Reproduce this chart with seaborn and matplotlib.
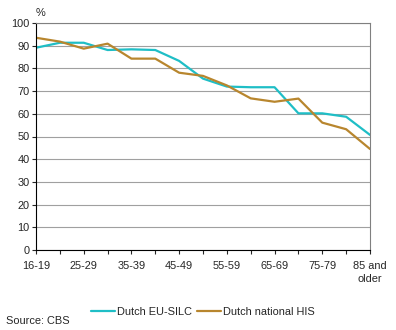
import matplotlib
matplotlib.use("Agg")
import matplotlib.pyplot as plt
import seaborn as sns
import pandas as pd

age_groups = ["16-19", "20-24", "25-29", "30-34", "35-39", "40-44", "45-49", "50-54",
              "55-59", "60-64", "65-69", "70-74", "75-79", "80-84", "85 and\nolder"]
eu_silc = [89.1, 91.3, 91.3, 88.1, 88.4, 88.1, 83.3, 75.5, 72.0, 71.7, 71.7, 60.2, 60.2, 58.7, 50.7]
his = [93.5, 91.8, 88.7, 90.9, 84.3, 84.3, 78.1, 76.7, 72.5, 66.8, 65.3, 66.7, 56.1, 53.2, 44.5]
series_names = ["Dutch EU-SILC", "Dutch national HIS"]
colors = ["#1FBEC6", "#B8862E"]

rows = []
for name, vals in zip(series_names, [eu_silc, his]):
    for i, v in enumerate(vals):
        rows.append({"pos": i, "value": v, "series": name})
df = pd.DataFrame(rows)

sns.set_style("white")
plt.rcParams['font.family'] = ['Liberation Sans', 'DejaVu Sans']
FS = 7.9

fig = plt.figure(figsize=(3.96, 3.30), dpi=100)
ax = fig.add_axes([36/396, 1 - 250/330, (370-36)/396, (250-23)/330])

sns.lineplot(data=df, x="pos", y="value", hue="series", palette=colors,
             linewidth=1.6, ax=ax, legend=False)

ax.set_xlim(0, len(age_groups) - 1)
ax.set_ylim(0, 100)
ax.set_yticks(range(0, 101, 10))
ax.set_xticks(range(len(age_groups)))
ax.set_xticklabels([lab if i % 2 == 0 else "" for i, lab in enumerate(age_groups)], fontsize=FS,
                   linespacing=1.4)
ax.tick_params(axis='y', labelsize=FS, length=3, width=0.8, direction='out', left=True, pad=1.5)
ax.tick_params(axis='x', length=3, width=0.8, direction='out', bottom=True, pad=5)
ax.set_xlabel("")
ax.set_ylabel("")
ax.yaxis.grid(True, color="#A0A0A0", linewidth=0.8)
ax.set_axisbelow(True)
for s in ["left", "bottom"]:
    ax.spines[s].set_color("black")
    ax.spines[s].set_linewidth(0.8)
for s in ["top", "right"]:
    ax.spines[s].set_color("#808080")
    ax.spines[s].set_linewidth(0.8)

fig.text(36/396, 1 - 13/330, "%", fontsize=FS, va="center", ha="left")

handles = [plt.Line2D([], [], color=c, linewidth=1.6) for c in colors]
fig.legend(handles, series_names, loc="center", bbox_to_anchor=(203/396, 1 - 312/330),
           ncol=2, frameon=False, fontsize=FS, handlelength=2.15, handletextpad=0.2,
           columnspacing=0.45, borderpad=0, borderaxespad=0)

fig.text(6/396, 1 - 321/330, "Source: CBS", fontsize=FS, va="center", ha="left")

fig.savefig("out.png", dpi=100)
